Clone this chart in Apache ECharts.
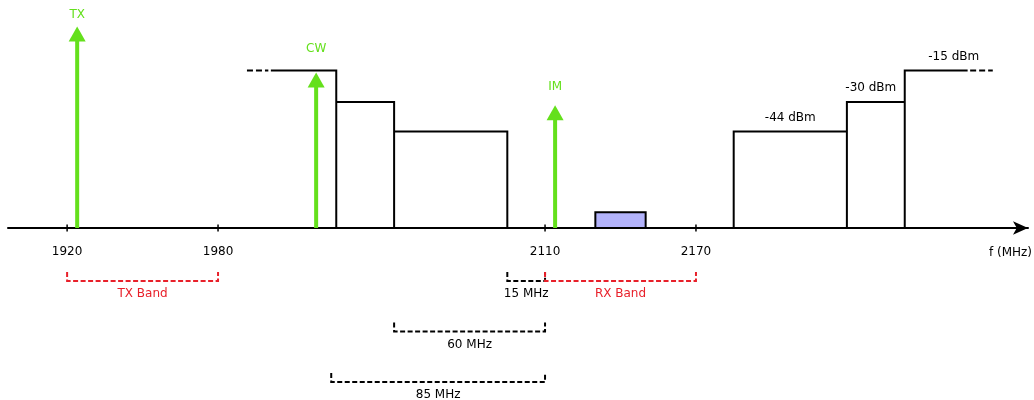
<!DOCTYPE html>
<html>
<head>
<meta charset="utf-8">
<script src="https://cdn.jsdelivr.net/npm/echarts@6/dist/echarts.min.js"></script>
<style>
  html, body { margin: 0; padding: 0; background: #fff; }
  #chart { width: 1034px; height: 400px; }
</style>
</head>
<body>
<div id="chart"></div>
<script>
// Frequency axis ticks (MHz)
const tickValues = [1920, 1980, 2110, 2170];

// Carriers drawn as arrows: name, frequency (MHz), level (dBm)
const carrierNames = ['TX', 'CW', 'IM'];
const carrierFreqs = [1924, 2019, 2114];
const carrierLevels = [6, -16, -31.5];

// Out-of-band blocking mask below the RX band: block edges (MHz), levels (dBm)
const lowMaskEdges = [2001, 2027, 2050, 2095];
const lowMaskLevels = [-15, -30, -44];
// Out-of-band blocking mask above the RX band
const highMaskEdges = [2185, 2230, 2253, 2278];
const highMaskLevels = [-44, -30, -15];
const highMaskLabels = ['-44 dBm', '-30 dBm', '-15 dBm'];
// Dashed continuation of the -15 dBm level on both ends (MHz)
const lowMaskExtension = [1991.5, 2000];
const highMaskExtension = [2279, 2288];

// Wanted signal inside the RX band
const wantedBand = [2130, 2150];
const wantedLevel = -82.5;

// Noise floor / axis level (dBm)
const floorLevel = -90;

// Brackets under the axis
const bracketLabels = ['TX Band', '15 MHz', 'RX Band', '60 MHz', '85 MHz'];
const bracketStarts = [1920, 2095, 2110, 2050, 2025];
const bracketEnds = [1980, 2110, 2170, 2110, 2110];
const bracketRows = [0, 0, 0, 1, 2];
const bracketKinds = ['band', 'span', 'band', 'span', 'span'];

// ---- styling ----
const FONT = '12px "DejaVu Sans"';
const GREEN = '#64e01c';
const RED = '#e8202a';
const INK = '#000';
const bracketColors = { band: RED, span: INK };
const carrierLabelGap = { TX: 12, CW: 24, IM: 18 };
const maskLabelShift = [0, -5, 5];

// Build the step outline of each mask side
function lowMaskPath() {
  const pts = [[lowMaskEdges[0], lowMaskLevels[0]]];
  for (let i = 0; i < lowMaskLevels.length; i++) {
    const e = lowMaskEdges[i + 1];
    pts.push([e, lowMaskLevels[i]], [e, floorLevel]);
    if (i + 1 < lowMaskLevels.length) pts.push([e, lowMaskLevels[i + 1]]);
  }
  return pts;
}
function highMaskPath() {
  const pts = [];
  for (let i = 0; i < highMaskLevels.length; i++) {
    pts.push([highMaskEdges[i], floorLevel], [highMaskEdges[i], highMaskLevels[i]],
             [highMaskEdges[i + 1], highMaskLevels[i]]);
  }
  return pts;
}

const chart = echarts.init(document.getElementById('chart'), null, { renderer: 'canvas' });

const xRange = { min: 1896.5, max: 2302 };

chart.setOption({
  animation: false,
  backgroundColor: '#fff',
  grid: [
    { left: 8, right: 6, top: 18, bottom: 172, containLabel: false, outerBoundsMode: 'none' },
    { left: 8, right: 6, top: 281, bottom: 18, containLabel: false, outerBoundsMode: 'none' }
  ],
  xAxis: [
    {
      type: 'value', gridIndex: 0, min: xRange.min, max: xRange.max,
      name: 'f (MHz)', nameLocation: 'end', nameGap: 4,
      nameTextStyle: { color: INK, fontSize: 12, fontFamily: 'DejaVu Sans',
                       align: 'right', verticalAlign: 'top', padding: [19, 0, 0, 0] },
      axisLine: { show: true, onZero: false, lineStyle: { color: INK, width: 2 },
                  symbol: ['none', 'arrow'], symbolSize: [10, 15], symbolOffset: [0, 0] },
      axisTick: { show: false },
      splitLine: { show: false },
      axisLabel: { customValues: tickValues, margin: 18, color: INK, fontSize: 12,
                   fontFamily: 'DejaVu Sans', formatter: v => String(v) }
    },
    {
      type: 'value', gridIndex: 1, min: xRange.min, max: xRange.max, show: false
    }
  ],
  yAxis: [
    { type: 'value', gridIndex: 0, min: floorLevel, max: 10, show: false },
    { type: 'value', gridIndex: 1, min: 0, max: 2, inverse: true, show: false }
  ],
  series: [
    // Mask outlines
    {
      type: 'line', xAxisIndex: 0, yAxisIndex: 0, data: lowMaskPath(),
      showSymbol: false, silent: true,
      lineStyle: { color: INK, width: 2, join: 'miter' }
    },
    {
      type: 'line', xAxisIndex: 0, yAxisIndex: 0, data: highMaskPath(),
      showSymbol: false, silent: true,
      lineStyle: { color: INK, width: 2, join: 'miter' }
    },
    {
      type: 'line', xAxisIndex: 0, yAxisIndex: 0,
      data: lowMaskExtension.map(f => [f, lowMaskLevels[0]]),
      showSymbol: false, silent: true,
      lineStyle: { color: INK, width: 2, type: [6, 3] }
    },
    {
      type: 'line', xAxisIndex: 0, yAxisIndex: 0,
      data: highMaskExtension.map(f => [f, highMaskLevels[highMaskLevels.length - 1]]),
      showSymbol: false, silent: true,
      lineStyle: { color: INK, width: 2, type: [6, 3] }
    },
    // Level labels over the upper mask blocks
    {
      type: 'custom', xAxisIndex: 0, yAxisIndex: 0, silent: true,
      data: highMaskLabels.map((t, i) => {
        const end = i === highMaskLabels.length - 1 ? highMaskExtension[1] : highMaskEdges[i + 1];
        return [(highMaskEdges[i] + end) / 2, highMaskLevels[i], i];
      }),
      renderItem: (params, api) => {
        const i = api.value(2);
        const p = api.coord([api.value(0), api.value(1)]);
        return {
          type: 'text',
          style: { text: highMaskLabels[i], x: p[0] + maskLabelShift[i], y: p[1] - 14,
                   align: 'center', verticalAlign: 'middle', font: FONT, fill: INK }
        };
      }
    },
    // Wanted signal
    {
      type: 'custom', xAxisIndex: 0, yAxisIndex: 0, silent: true,
      data: [[wantedBand[0], wantedBand[1], wantedLevel]],
      renderItem: (params, api) => {
        const a = api.coord([api.value(0), api.value(2)]);
        const b = api.coord([api.value(1), floorLevel]);
        return {
          type: 'rect',
          shape: { x: a[0], y: a[1], width: b[0] - a[0], height: b[1] - a[1] },
          style: { fill: '#b3b3fb', stroke: INK, lineWidth: 2 }
        };
      }
    },
    // Carrier arrows
    {
      type: 'custom', xAxisIndex: 0, yAxisIndex: 0, silent: true,
      data: carrierFreqs.map((f, i) => [f, carrierLevels[i], i]),
      renderItem: (params, api) => {
        const i = api.value(2);
        const base = api.coord([api.value(0), floorLevel]);
        const tip = api.coord([api.value(0), api.value(1)]);
        const x = tip[0];
        const headH = 15, headW = 17;
        return {
          type: 'group',
          children: [
            { type: 'line', shape: { x1: x, y1: base[1], x2: x, y2: tip[1] + headH - 1 },
              style: { stroke: GREEN, lineWidth: 4 } },
            { type: 'polygon',
              shape: { points: [[x - headW / 2, tip[1] + headH], [x + headW / 2, tip[1] + headH], [x, tip[1]]] },
              style: { fill: GREEN } },
            { type: 'text',
              style: { text: carrierNames[i], x: x, y: tip[1] - carrierLabelGap[carrierNames[i]],
                       align: 'center', verticalAlign: 'middle', font: FONT, fill: GREEN } }
          ]
        };
      }
    },
    // Tick marks crossing the frequency axis
    {
      type: 'custom', xAxisIndex: 0, yAxisIndex: 0, silent: true,
      data: tickValues.map(v => [v]),
      renderItem: (params, api) => {
        const p = api.coord([api.value(0), floorLevel]);
        return {
          type: 'line',
          shape: { x1: p[0], y1: p[1] - 3.5, x2: p[0], y2: p[1] + 3.5 },
          style: { stroke: INK, lineWidth: 1.5 }
        };
      }
    },
    // Band / spacing brackets
    {
      type: 'custom', xAxisIndex: 1, yAxisIndex: 1, silent: true,
      data: bracketLabels.map((t, i) => [bracketStarts[i], bracketEnds[i], bracketRows[i], i]),
      renderItem: (params, api) => {
        const i = api.value(3);
        const a = api.coord([api.value(0), api.value(2)]);
        const b = api.coord([api.value(1), api.value(2)]);
        const color = bracketColors[bracketKinds[i]];
        const y = a[1];
        return {
          type: 'group',
          children: [
            { type: 'polyline',
              shape: { points: [[a[0], y - 9], [a[0], y], [b[0], y], [b[0], y - 9]] },
              style: { stroke: color, lineWidth: 2, lineDash: [5, 2.5], fill: null } },
            { type: 'text',
              style: { text: bracketLabels[i], x: (a[0] + b[0]) / 2, y: y + 13,
                       align: 'center', verticalAlign: 'middle', font: FONT, fill: color } }
          ]
        };
      }
    }
  ]
});
</script>
</body>
</html>
